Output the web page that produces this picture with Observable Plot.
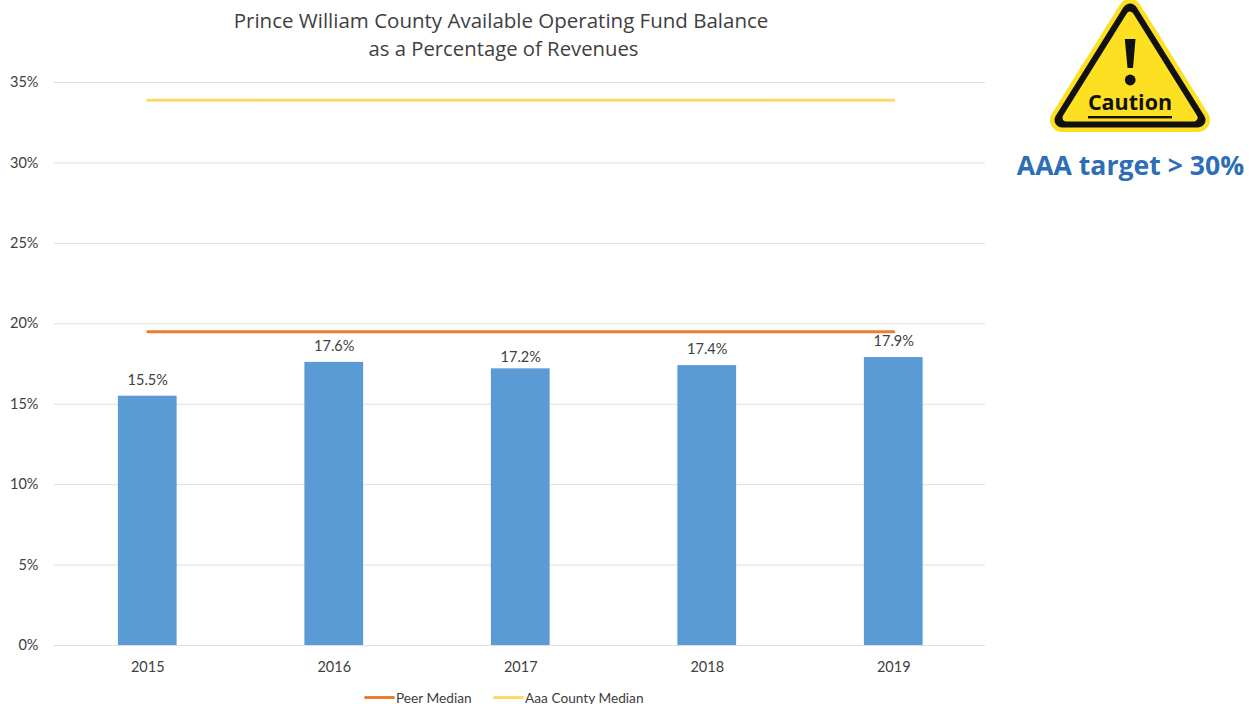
<!DOCTYPE html>
<html>
<head>
<meta charset="utf-8">
<script src="https://cdn.jsdelivr.net/npm/d3@7"></script>
<script src="https://cdn.jsdelivr.net/npm/@observablehq/plot@0.6"></script>
<style>
  html, body { margin: 0; padding: 0; background: #fff; overflow: hidden; }
  #stage { position: relative; width: 1255px; height: 704px; }
  #stage > * { position: absolute; }
  #title { left: 53px; width: 896px; top: 6px; text-align: center; font: 20.5px/28px "Open Sans", sans-serif; color: #404040; }
  #title span { position: relative; left: 2.5px; font-size: 20.3px; }
  #target { left: 1008px; width: 245px; top: 147px; text-align: center; font: bold 26.6px/36px "Open Sans", sans-serif; color: #2e6eb5; white-space: nowrap; }
  #sign { left: 1040px; top: 0; }
  .key { top: 688.5px; font: 13.7px/17px Lato, sans-serif; color: #404040; white-space: nowrap; }
  .swatch { top: 696px; width: 31px; height: 3px; border-radius: 2px; }
</style>
</head>
<body>
<div id="stage">
  <div id="chart" style="left:0;top:0"></div>
  <div id="title">Prince William County Available Operating Fund Balance<br><span>as a Percentage of Revenues</span></div>
  <svg id="sign" width="180" height="140" viewBox="1040 0 180 140">
    <polygon points="1130,11 1198,120 1062,120" fill="#fde021" stroke="#fde021" stroke-width="24" stroke-linejoin="round"/>
    <polygon points="1130,11 1198,120 1062,120" fill="#111" stroke="#111" stroke-width="15" stroke-linejoin="round"/>
    <polygon points="1130,15.8 1193.5,117.5 1066.5,117.5" fill="#fde021" stroke="#fde021" stroke-width="8" stroke-linejoin="round"/>
    <polygon points="1124.8,39 1135.5,39 1133,68 1127.5,68" fill="#111"/>
    <circle cx="1130.2" cy="80" r="5.4" fill="#111"/>
    <text x="1130" y="110" text-anchor="middle" font-family="Open Sans" font-weight="700" font-size="21.5" fill="#111">Caution</text>
    <rect x="1088" y="116" width="84" height="2.4" fill="#111"/>
  </svg>
  <div id="target">AAA target &gt; 30%</div>
  <div class="swatch" style="left:364px;background:#ed7d31"></div>
  <div class="key" style="left:396px">Peer Median</div>
  <div class="swatch" style="left:493px;background:#ffd966"></div>
  <div class="key" style="left:525px">Aaa County Median</div>
</div>
<script>
// Fiscal years and the balance for each, in percent of revenues
const years = ["2015", "2016", "2017", "2018", "2019"];
const balance = [15.5, 17.6, 17.2, 17.4, 17.9];
const peerMedian = [19.5, 19.5, 19.5, 19.5, 19.5];
const aaaMedian = [33.9, 33.9, 33.9, 33.9, 33.9];
const percentTicks = [0, 5, 10, 15, 20, 25, 30, 35];

const rows = years.map((year, i) => ({
  year,
  balance: balance[i],
  peer: peerMedian[i],
  aaa: aaaMedian[i]
}));

const labelFont = { fontFamily: "Lato, sans-serif", fontSize: 14.5, fill: "#404040" };
const valueLabel = (d) => d.balance.toFixed(1) + "%";

const chart = Plot.plot({
  width: 1255,
  height: 704,
  marginTop: 82,
  marginBottom: 59,
  marginLeft: 54,
  marginRight: 270,
  style: { background: "transparent", overflow: "visible" },
  x: { domain: years, range: [54, 986.5], round: false, paddingInner: 0.685, paddingOuter: 0.3425, label: null },
  y: { domain: [0, 35], label: null },
  marks: [
    Plot.gridY(percentTicks, { stroke: "#dfdfdf", strokeOpacity: 1, strokeWidth: 1 }),
    Plot.axisY(percentTicks, {
      tickSize: 0, tickPadding: 16, label: null,
      tickFormat: (d) => d + "%", ...labelFont
    }),
    Plot.axisX({ tickSize: 0, tickPadding: 16, label: null, ...labelFont }),
    Plot.barY(rows, { x: "year", y: "balance", fill: "#5b9bd5" }),
    Plot.lineY(rows, { x: "year", y: "peer", stroke: "#ed7d31", strokeWidth: 3, strokeLinecap: "round" }),
    Plot.lineY(rows, { x: "year", y: "aaa", stroke: "#ffd966", strokeWidth: 3, strokeLinecap: "round" }),
    // The 2017 label sits closer to its bar than the others
    Plot.text(rows.filter((d) => d.year !== "2017"), {
      x: "year", y: "balance", text: valueLabel, dy: -16, ...labelFont
    }),
    Plot.text(rows.filter((d) => d.year === "2017"), {
      x: "year", y: "balance", text: valueLabel, dy: -11, ...labelFont
    })
  ]
});
document.getElementById("chart").appendChild(chart);
</script>
</body>
</html>
